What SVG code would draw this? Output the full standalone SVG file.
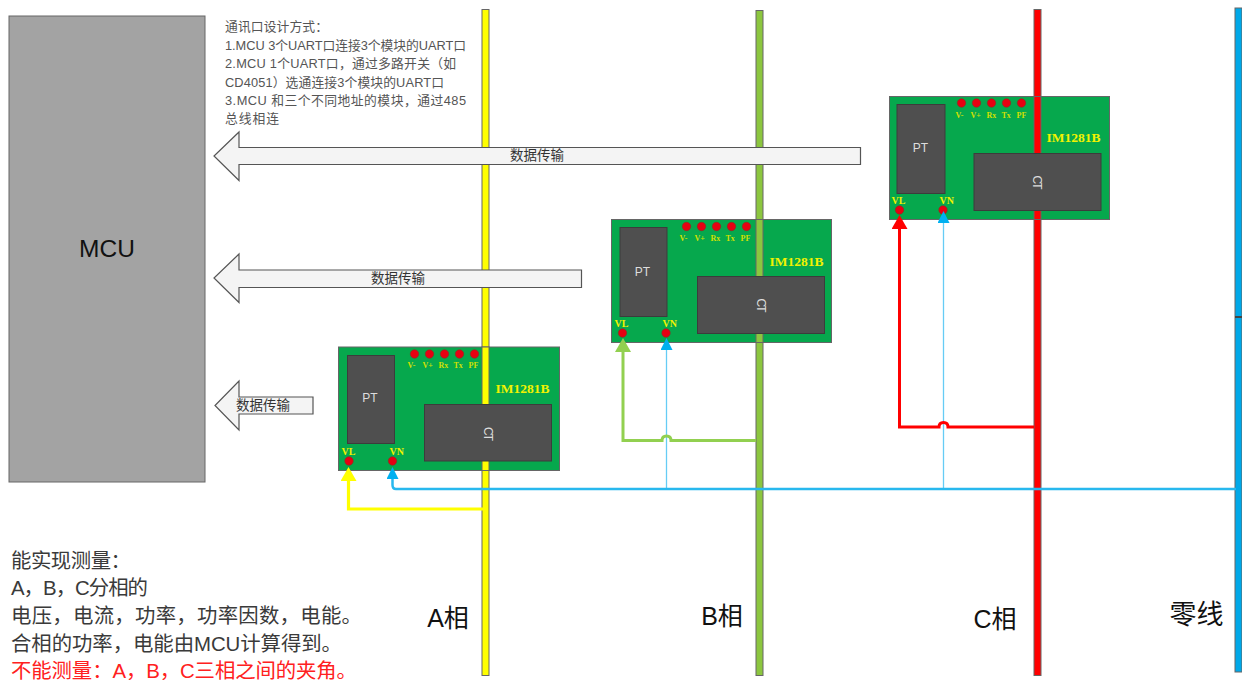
<svg xmlns="http://www.w3.org/2000/svg" width="1242" height="680" viewBox="0 0 1242 680">
<defs>
<style>
text{font-family:"Liberation Sans","Noto Sans CJK SC",sans-serif}
.bus{stroke:#666;stroke-width:1}
.board{fill:#06a84d;stroke:#666;stroke-width:1}
.chip{fill:#4f4f4f;stroke:#3c3c3c;stroke-width:1}
.dot{fill:#e60012;stroke:#8f2a20;stroke-width:.6}
.lbl{font-family:"Liberation Serif","Noto Sans CJK SC",serif;fill:#f2f200;font-weight:bold}
.pin{font-size:8px;fill:#d0e000;font-family:"Liberation Serif",serif;font-weight:bold}
.arrow{fill:#f4f4f4;stroke:#555;stroke-width:1.2}
.note{font-size:12.8px;fill:#555}
.big{font-size:20.4px;fill:#3a3a3a}
.phase{font-size:25px;fill:#111;text-anchor:middle}
.flow{font-size:13.5px;fill:#333;text-anchor:middle}
.ct{font-size:12px;fill:#ddd;text-anchor:middle;letter-spacing:-2px}
.wire{fill:none}
</style>
<marker id="ay" markerUnits="userSpaceOnUse" markerWidth="15" markerHeight="16" refX="10" refY="8" orient="auto" viewBox="0 0 15 16"><path d="M14 8L0 16V0Z" fill="#ffff00"/></marker>
<marker id="ag" markerUnits="userSpaceOnUse" markerWidth="15" markerHeight="16" refX="10" refY="8" orient="auto" viewBox="0 0 15 16"><path d="M14 8L0 16V0Z" fill="#92d050"/></marker>
<marker id="ar" markerUnits="userSpaceOnUse" markerWidth="15" markerHeight="16" refX="10" refY="8" orient="auto" viewBox="0 0 15 16"><path d="M14 8L0 16V0Z" fill="#ff0000"/></marker>
<marker id="ab" markerUnits="userSpaceOnUse" markerWidth="13" markerHeight="12" refX="8" refY="6" orient="auto" viewBox="0 0 13 12"><path d="M12 6L0 12V0Z" fill="#00b0f0"/></marker>
</defs>

<g id="mcu"><rect x="9" y="16" width="196" height="466" fill="#a3a3a3" stroke="#666" stroke-width="1"/><text x="107" y="257" font-size="24.500" fill="#111" text-anchor="middle">MCU</text></g>

<g id="bus-a"><rect class="bus" x="482" y="9.500" width="7" height="666" fill="#ffff00"/></g>
<g id="bus-b"><rect class="bus" x="756" y="10.500" width="7" height="665" fill="#8cc63f"/></g>
<g id="bus-c"><rect class="bus" x="1034" y="9.500" width="7" height="666" fill="#ff0000"/></g>
<g id="bus-n"><rect class="bus" x="1235" y="8" width="7" height="664" fill="#00a8e8"/><rect x="1235" y="316" width="7" height="2" fill="#444"/></g>

<g id="module-c" transform="translate(889.500 96.500)">
<rect class="board" width="220" height="123"/>
<rect class="bus" x="144.500" width="7" height="123" fill="#ff0000"/>
<rect class="chip" x="7.500" y="8" width="48" height="89"/><text x="31" y="55" font-size="12" fill="#ddd" text-anchor="middle">PT</text>
<rect class="chip" x="84.500" y="57" width="127" height="57"/><text class="ct" transform="translate(143.500 85) rotate(90)">CT</text>
<circle class="dot" cx="72" cy="6.500" r="4.200"/><circle class="dot" cx="87" cy="6.500" r="4.200"/><circle class="dot" cx="102" cy="6.500" r="4.200"/><circle class="dot" cx="117" cy="6.500" r="4.200"/><circle class="dot" cx="132" cy="6.500" r="4.200"/>
<text class="pin" x="66" y="21">V-</text><text class="pin" x="81" y="21">V+</text><text class="pin" x="97" y="21">Rx</text><text class="pin" x="112" y="21">Tx</text><text class="pin" x="127" y="21">PF</text>
<text class="lbl" x="157" y="45" font-size="13.500">IM1281B</text>
<text class="lbl" x="2" y="107" font-size="10">VL</text><text class="lbl" x="50" y="107" font-size="10">VN</text>
<circle class="dot" cx="10" cy="113.500" r="4.200"/><circle class="dot" cx="53.500" cy="113.500" r="4.200"/>
</g>
<g id="module-b" transform="translate(611.500 219.500)">
<rect class="board" width="220" height="123"/>
<rect class="bus" x="144.500" width="7" height="123" fill="#8cc63f"/>
<rect class="chip" x="8.500" y="8" width="47" height="89"/><text x="31" y="56" font-size="12" fill="#ddd" text-anchor="middle">PT</text>
<rect class="chip" x="86" y="57" width="127" height="57"/><text class="ct" transform="translate(145 85) rotate(90)">CT</text>
<circle class="dot" cx="75" cy="7" r="4.200"/><circle class="dot" cx="90" cy="7" r="4.200"/><circle class="dot" cx="105" cy="7" r="4.200"/><circle class="dot" cx="120" cy="7" r="4.200"/><circle class="dot" cx="135" cy="7" r="4.200"/>
<text class="pin" x="68" y="21">V-</text><text class="pin" x="83" y="21">V+</text><text class="pin" x="99" y="21">Rx</text><text class="pin" x="114" y="21">Tx</text><text class="pin" x="129" y="21">PF</text>
<text class="lbl" x="158" y="46" font-size="13.500">IM1281B</text>
<text class="lbl" x="3" y="107" font-size="10">VL</text><text class="lbl" x="51" y="107" font-size="10">VN</text>
<circle class="dot" cx="11" cy="113.500" r="4.200"/><circle class="dot" cx="54.500" cy="113.500" r="4.200"/>
</g>
<g id="module-a" transform="translate(338.500 347)">
<rect class="board" width="221" height="123.500"/>
<rect class="bus" x="143.500" width="7" height="123.500" fill="#ffff00"/>
<rect class="chip" x="9" y="8.500" width="47" height="88"/><text x="31.500" y="55" font-size="12" fill="#ddd" text-anchor="middle">PT</text>
<rect class="chip" x="86" y="57.500" width="127" height="56.500"/><text class="ct" transform="translate(145 86) rotate(90)">CT</text>
<circle class="dot" cx="76" cy="7" r="4.200"/><circle class="dot" cx="91" cy="7" r="4.200"/><circle class="dot" cx="106" cy="7" r="4.200"/><circle class="dot" cx="121" cy="7" r="4.200"/><circle class="dot" cx="136" cy="7" r="4.200"/>
<text class="pin" x="69" y="21">V-</text><text class="pin" x="84" y="21">V+</text><text class="pin" x="100" y="21">Rx</text><text class="pin" x="115" y="21">Tx</text><text class="pin" x="130" y="21">PF</text>
<text class="lbl" x="157" y="46" font-size="13.500">IM1281B</text>
<text class="lbl" x="3" y="108" font-size="10">VL</text><text class="lbl" x="51" y="108" font-size="10">VN</text>
<circle class="dot" cx="10.500" cy="114" r="4.200"/><circle class="dot" cx="54" cy="114" r="4.200"/>
</g>

<g id="connectors">
<path class="wire" d="M483 509H348.500V471" stroke="#ffff00" stroke-width="3.200" marker-end="url(#ay)"/>
<path class="wire" d="M666.500 489V342" stroke="#66ccf5" stroke-width="1.300" marker-end="url(#ab)"/>
<path class="wire" d="M943.500 489V215" stroke="#66ccf5" stroke-width="1.300" marker-end="url(#ab)"/>
<path class="wire" d="M1236 489H396Q392.500 489 392.500 485V471" stroke="#28b8ee" stroke-width="2.500" marker-end="url(#ab)"/>
<path class="wire" d="M756 440.500H671Q671 436 666.500 436Q662 436 662 440.500H623V342" stroke="#92d050" stroke-width="3" marker-end="url(#ag)"/>
<path class="wire" d="M1034 427H948Q948 422.500 943.500 422.500Q939 422.500 939 427H899.500V219" stroke="#ff0000" stroke-width="3" marker-end="url(#ar)"/>
</g>

<g id="arrow-c"><path class="arrow" d="M860.500 147.500H239V132L214 156L239 180.500V164.500H860.500Z"/><text class="flow" x="537" y="160">数据传输</text></g>
<g id="arrow-b"><path class="arrow" d="M581.500 270H239V254L214 278L239 302.500V287.500H581.500Z"/><text class="flow" x="398" y="283">数据传输</text></g>
<g id="arrow-a"><path class="arrow" d="M313 397H239V381L215 405.500L239 430V414H313Z"/><text class="flow" x="263" y="410">数据传输</text></g>

<g id="notes">
<text class="note" x="225" y="31" textLength="103">通讯口设计方式：</text>
<text class="note" x="225" y="50" textLength="241">1.MCU 3个UART口连接3个模块的UART口</text>
<text class="note" x="225" y="68" textLength="231">2.MCU 1个UART口，通过多路开关（如</text>
<text class="note" x="225" y="87" textLength="219">CD4051）选通连接3个模块的UART口</text>
<text class="note" x="225" y="105" textLength="241">3.MCU 和三个不同地址的模块，通过485</text>
<text class="note" x="225" y="123" textLength="54">总线相连</text>
<text class="big" x="11" y="568" textLength="120">能实现测量：</text>
<text class="big" x="11" y="595" textLength="137">A，B，C分相的</text>
<text class="big" x="11" y="623" textLength="351">电压，电流，功率，功率因数，电能。</text>
<text class="big" x="11" y="651" textLength="331">合相的功率，电能由MCU计算得到。</text>
<text class="big" x="11" y="678" textLength="346" style="fill:#ff2020">不能测量：A，B，C三相之间的夹角。</text>
<text class="phase" x="448" y="627">A相</text>
<text class="phase" x="722" y="625">B相</text>
<text class="phase" x="995" y="628">C相</text>
<text class="phase" x="1196.500" y="624" style="font-size:27px">零线</text>
</g>
</svg>
